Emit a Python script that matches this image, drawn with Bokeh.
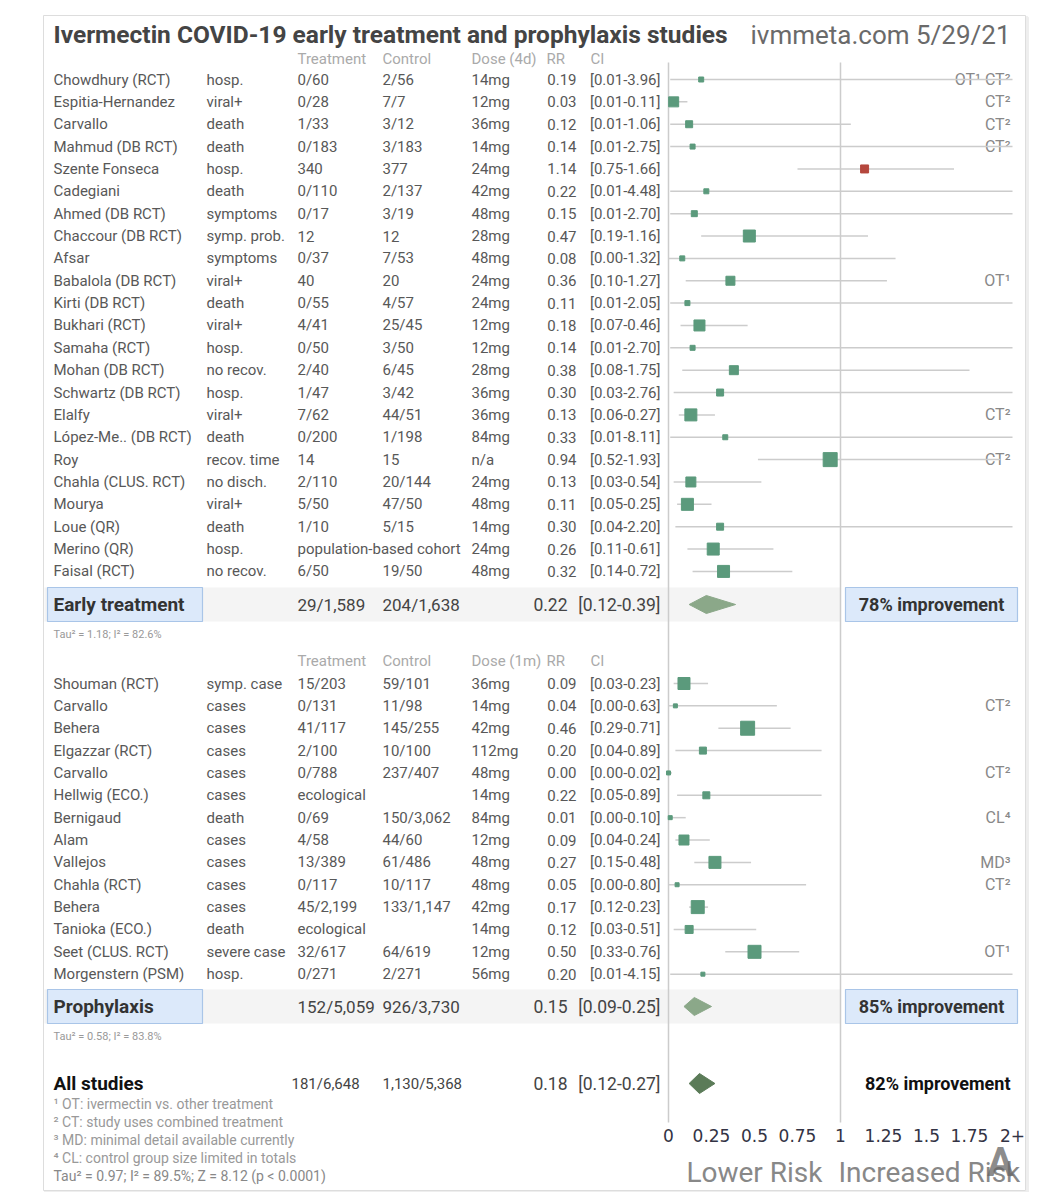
import numpy as np
from bokeh.plotting import figure
from bokeh.models import Range1d, ColumnDataSource
from bokeh.core.properties import value
from bokeh.embed import file_html
from bokeh.resources import INLINE

# ---------------- data ----------------
early_names = ["Chowdhury (RCT)", "Espitia-Hernandez", "Carvallo", "Mahmud (DB RCT)", "Szente Fonseca",
               "Cadegiani", "Ahmed (DB RCT)", "Chaccour (DB RCT)", "Afsar", "Babalola (DB RCT)",
               "Kirti (DB RCT)", "Bukhari (RCT)", "Samaha (RCT)", "Mohan (DB RCT)", "Schwartz (DB RCT)",
               "Elalfy", "López-Me.. (DB RCT)", "Roy", "Chahla (CLUS. RCT)", "Mourya", "Loue (QR)",
               "Merino (QR)", "Faisal (RCT)"]
early_outcome = ["hosp.", "viral+", "death", "death", "hosp.", "death", "symptoms", "symp. prob.", "symptoms",
                 "viral+", "death", "viral+", "hosp.", "no recov.", "hosp.", "viral+", "death", "recov. time",
                 "no disch.", "viral+", "death", "hosp.", "no recov."]
early_treat = ["0/60", "0/28", "1/33", "0/183", "340", "0/110", "0/17", "12", "0/37", "40", "0/55", "4/41",
               "0/50", "2/40", "1/47", "7/62", "0/200", "14", "2/110", "5/50", "1/10",
               "population-based cohort", "6/50"]
early_ctrl = ["2/56", "7/7", "3/12", "3/183", "377", "2/137", "3/19", "12", "7/53", "20", "4/57", "25/45",
              "3/50", "6/45", "3/42", "44/51", "1/198", "15", "20/144", "47/50", "5/15", "", "19/50"]
early_dose = ["14mg", "12mg", "36mg", "14mg", "24mg", "42mg", "48mg", "28mg", "48mg", "24mg", "24mg", "12mg",
              "12mg", "28mg", "36mg", "36mg", "84mg", "n/a", "24mg", "48mg", "14mg", "24mg", "48mg"]
early_rr = [0.19, 0.03, 0.12, 0.14, 1.14, 0.22, 0.15, 0.47, 0.08, 0.36, 0.11, 0.18, 0.14, 0.38, 0.30, 0.13,
            0.33, 0.94, 0.13, 0.11, 0.30, 0.26, 0.32]
early_lo = [0.01, 0.01, 0.01, 0.01, 0.75, 0.01, 0.01, 0.19, 0.00, 0.10, 0.01, 0.07, 0.01, 0.08, 0.03, 0.06,
            0.01, 0.52, 0.03, 0.05, 0.04, 0.11, 0.14]
early_hi = [3.96, 0.11, 1.06, 2.75, 1.66, 4.48, 2.70, 1.16, 1.32, 1.27, 2.05, 0.46, 2.70, 1.75, 2.76, 0.27,
            8.11, 1.93, 0.54, 0.25, 2.20, 0.61, 0.72]
early_weight = [5, 10, 7, 5, 8, 5, 6, 12, 5, 9, 5, 11, 5, 9, 7, 12, 5, 14, 10, 12, 7, 12, 12]
early_note = ["OT¹ CT²", "CT²", "CT²", "CT²", "", "", "", "", "", "OT¹", "", "", "", "", "", "CT²", "",
              "CT²", "", "", "", "", ""]

pro_names = ["Shouman (RCT)", "Carvallo", "Behera", "Elgazzar (RCT)", "Carvallo", "Hellwig (ECO.)",
             "Bernigaud", "Alam", "Vallejos", "Chahla (RCT)", "Behera", "Tanioka (ECO.)",
             "Seet (CLUS. RCT)", "Morgenstern (PSM)"]
pro_outcome = ["symp. case", "cases", "cases", "cases", "cases", "cases", "death", "cases", "cases", "cases",
               "cases", "death", "severe case", "hosp."]
pro_treat = ["15/203", "0/131", "41/117", "2/100", "0/788", "ecological", "0/69", "4/58", "13/389", "0/117",
             "45/2,199", "ecological", "32/617", "0/271"]
pro_ctrl = ["59/101", "11/98", "145/255", "10/100", "237/407", "", "150/3,062", "44/60", "61/486", "10/117",
            "133/1,147", "", "64/619", "2/271"]
pro_dose = ["36mg", "14mg", "42mg", "112mg", "48mg", "14mg", "84mg", "12mg", "48mg", "48mg", "42mg", "14mg",
            "12mg", "56mg"]
pro_rr = [0.09, 0.04, 0.46, 0.20, 0.00, 0.22, 0.01, 0.09, 0.27, 0.05, 0.17, 0.12, 0.50, 0.20]
pro_lo = [0.03, 0.00, 0.29, 0.04, 0.00, 0.05, 0.00, 0.04, 0.15, 0.00, 0.12, 0.03, 0.33, 0.01]
pro_hi = [0.23, 0.63, 0.71, 0.89, 0.02, 0.89, 0.10, 0.24, 0.48, 0.80, 0.23, 0.51, 0.76, 4.15]
pro_weight = [12, 4, 14, 7, 4, 7, 4, 10, 12, 4, 13, 8, 13, 4]
pro_note = ["", "CT²", "", "", "CT²", "", "CL⁴", "", "MD³", "CT²", "", "", "OT¹", ""]

sum_labels = ["Early treatment", "Prophylaxis"]
sum_treat = ["29/1,589", "152/5,059"]
sum_ctrl = ["204/1,638", "926/3,730"]
sum_rr = [0.22, 0.15]
sum_lo = [0.12, 0.09]
sum_hi = [0.39, 0.25]
sum_improve = ["78% improvement", "85% improvement"]
sum_tau = ["Tau² = 1.18; I² = 82.6%", "Tau² = 0.58; I² = 83.8%"]
dose_headers = ["Dose (4d)", "Dose (1m)"]

all_treat = "181/6,648"
all_ctrl = "1,130/5,368"
all_rr, all_lo, all_hi = 0.18, 0.12, 0.27
all_improve = "82% improvement"

tick_vals = [0, 0.25, 0.5, 0.75, 1, 1.25, 1.5, 1.75, 2]
tick_labels = ["0", "0.25", "0.5", "0.75", "1", "1.25", "1.5", "1.75", "2+"]
rr_cap = 2.0

footnotes = ["¹ OT: ivermectin vs. other treatment", "² CT: study uses combined treatment",
             "³ MD: minimal detail available currently", "⁴ CL: control group size limited in totals",
             "Tau² = 0.97; I² = 89.5%; Z = 8.12 (p < 0.0001)"]

# ---------------- layout ----------------
W, H = 1046, 1192
ZERO_PX, UNIT_PX = 668, 172   # pixel x of RR=0, pixels per RR unit
FONT = value("Roboto")

p = figure(width=W, height=H, output_backend="svg", toolbar_location=None,
           x_range=Range1d(0, W), y_range=Range1d(H, 0),
           x_axis_type=None, y_axis_type=None, min_border=0,
           outline_line_color=None, background_fill_color="white", border_fill_color="white")
p.grid.visible = False
p.extra_x_ranges = {"rr": Range1d((0 - ZERO_PX) / UNIT_PX, (W - ZERO_PX) / UNIT_PX)}


def txt(x, y, t, size, color, align="left", style="normal", font=FONT, rng="default", alpha=1.0):
    xs = list(x) if isinstance(x, (list, np.ndarray)) else [x]
    ys = list(y) if isinstance(y, (list, np.ndarray)) else [y] * len(xs)
    ts = list(t) if isinstance(t, list) else [t] * len(xs)
    if len(xs) == 1 and len(ts) > 1:
        xs = xs * len(ts)
    if len(ys) == 1 and len(ts) > 1:
        ys = ys * len(ts)
    p.text(x=xs, y=ys, text=ts, text_font=font, text_font_size=size, text_color=color,
           text_align=align, text_baseline="middle", text_font_style=style, x_range_name=rng,
           text_alpha=alpha)


# frame
p.quad(left=[45], right=[1027], top=[17], bottom=[1192], fill_color=None, line_color="#eeeeee", line_width=3)
p.quad(left=[43], right=[1025], top=[15], bottom=[1190], fill_color="white", line_color="#dddddd", line_width=1)

ROW_H = 22.36
early_y = 79 + np.arange(len(early_names)) * ROW_H
pro_y = 683 + np.arange(len(pro_names)) * ROW_H
header_y = [58, 660]
sum_y = [604, 1006]
tau_y = [634, 1036]
all_y = 1083

# summary bands and boxes
for sy in sum_y:
    p.quad(left=[44], right=[840], top=[sy - 17], bottom=[sy + 17], fill_color="#f4f4f4", line_color=None)
    p.quad(left=[47], right=[202], top=[sy - 17], bottom=[sy + 17], fill_color="#dce9fa",
           line_color="#a9c5e8", line_width=1.2)
    p.quad(left=[845], right=[1017], top=[sy - 17], bottom=[sy + 17], fill_color="#dce9fa",
           line_color="#a9c5e8", line_width=1.2)

# reference lines at RR=0 and RR=1
p.segment(x0=[0, 1], x1=[0, 1], y0=[62, 62], y1=[1122, 1122], line_color="#cccccc", line_width=1.5,
          x_range_name="rr")

# title
txt(53, 34, "Ivermectin COVID-19 early treatment and prophylaxis studies", "24.5px", "#444444", style="bold")
txt(1010, 34, "ivmmeta.com 5/29/21", "26px", "#6a6a6a", align="right")

TEXT_C = "#585858"
HDR_C = "#aaaaaa"
for i, (names, outc, tr, ct, dose, rr, lo, hi, wt, note, ys) in enumerate([
        (early_names, early_outcome, early_treat, early_ctrl, early_dose, early_rr, early_lo, early_hi,
         early_weight, early_note, early_y),
        (pro_names, pro_outcome, pro_treat, pro_ctrl, pro_dose, pro_rr, pro_lo, pro_hi, pro_weight, pro_note,
         pro_y)]):
    hy = header_y[i]
    txt([297, 382, 471, 546, 590], hy, ["Treatment", "Control", dose_headers[i], "RR", "CI"], "15px", HDR_C)
    ys = list(ys)
    txt(53, ys, names, "15px", TEXT_C)
    txt(206, ys, outc, "15px", TEXT_C)
    txt(297, ys, tr, "15px", TEXT_C)
    txt(382, ys, ct, "15px", TEXT_C)
    txt(471, ys, dose, "15px", TEXT_C)
    txt(576, ys, [f"{v:.2f}" for v in rr], "15px", TEXT_C, align="right")
    txt(660, ys, [f"[{a:.2f}-{b:.2f}]" for a, b in zip(lo, hi)], "15px", TEXT_C, align="right")
    txt(1010, ys, note, "16px", "#888888", align="right")

    src = ColumnDataSource(dict(y=ys, rr=rr, lo=lo, hi=np.minimum(np.array(hi), rr_cap), w=wt,
                                c=["#b5473d" if v > 1 else "#5b9a7c" for v in rr]))
    p.segment(x0="lo", x1="hi", y0="y", y1="y", source=src, line_color="#cccccc", line_width=1.5,
              x_range_name="rr")
    p.scatter(x="rr", y="y", size="w", marker="square", source=src, fill_color="c", line_color="c",
              x_range_name="rr")

    # summary row
    sy = sum_y[i]
    txt(53, sy, sum_labels[i], "19px", "#333333", style="bold")
    txt(297, sy, sum_treat[i], "17px", "#444444")
    txt(382, sy, sum_ctrl[i], "17px", "#444444")
    txt(567, sy, f"{sum_rr[i]:.2f}", "17.5px", "#444444", align="right")
    txt(660, sy, f"[{sum_lo[i]:.2f}-{sum_hi[i]:.2f}]", "17.5px", "#444444", align="right")
    txt(931, sy, sum_improve[i], "18px", "#333333", align="center", style="bold")
    txt(53, tau_y[i], sum_tau[i], "11px", "#999999")
    p.patches(xs=[[sum_lo[i], sum_rr[i], sum_hi[i], sum_rr[i]]], ys=[[sy, sy - 9, sy, sy + 9]],
              fill_color="#8ba889", line_color="#8ba889", x_range_name="rr")

# all studies
txt(53, all_y, "All studies", "19px", "#111111", style="bold")
txt(291, all_y, all_treat, "15px", "#444444")
txt(382, all_y, all_ctrl, "15px", "#444444")
txt(567, all_y, f"{all_rr:.2f}", "17.5px", "#444444", align="right")
txt(660, all_y, f"[{all_lo:.2f}-{all_hi:.2f}]", "17.5px", "#444444", align="right")
txt(1010, all_y, all_improve, "18px", "#111111", align="right", style="bold")
p.patches(xs=[[all_lo, all_rr, all_hi, all_rr]], ys=[[all_y, all_y - 10, all_y, all_y + 10]],
          fill_color="#5b7b58", line_color="#5b7b58", x_range_name="rr")

# footnotes
txt(53, [1103, 1121, 1139, 1157], footnotes[:4], "14px", "#999999")
txt(53, 1175, footnotes[4], "14px", "#888888")

# axis tick labels (drawn through the RR scale)
txt(tick_vals, 1135, tick_labels, "17px", "#333344", align="center", font=value("DejaVu Sans"), rng="rr")
p.text(x=[1, 1], y=[1172, 1172], text=["Lower Risk", "Increased Risk"], x_offset=[-18, -2],
       text_align=["right", "left"], text_baseline="middle", text_font=FONT, text_font_size="28px",
       text_color="#888888", x_range_name="rr")

# watermark
txt(1000, 1162, "A", "40px", "#666666", align="center", style="bold", alpha=0.75)

open("out.html", "w").write(file_html(p, INLINE))
